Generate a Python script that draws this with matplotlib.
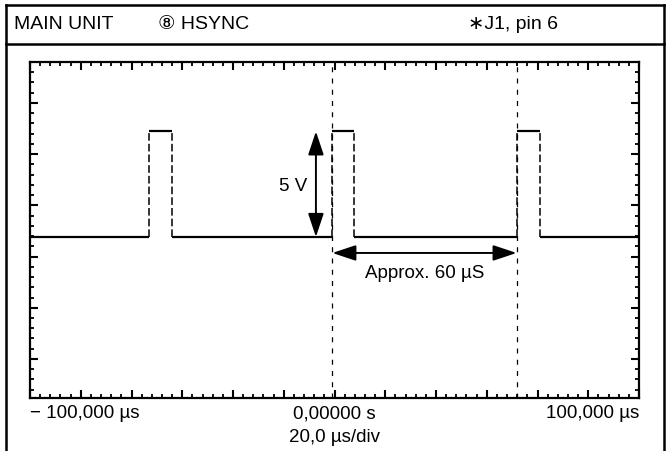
import numpy as np
import matplotlib
matplotlib.use("Agg")
import matplotlib.pyplot as plt

plt.rcParams['font.family'] = ['Liberation Sans', 'DejaVu Sans']

# Horizontal sync pulses (time in microseconds, level in volts)
pulse_start_us = [-61.0, -0.7, 59.8]
pulse_end_us = [-53.4, 6.5, 67.5]
low_level_v = 0.0
high_level_v = 5.0
time_range_us = [-100.0, 100.0]

# Period markers and annotations
marker_us = [-0.7, 59.8]
amplitude_label = "5 V"
period_label = "Approx. 60 \u00b5S"

header_texts = ["MAIN UNIT", "\u2467 HSYNC", "\u2217J1, pin 6"]
x_tick_labels = ["\u2212 100,000 \u00b5s", "0,00000 s", "100,000 \u00b5s"]
timebase_label = "20,0 \u00b5s/div"

W, H = 668, 451
fig = plt.figure(figsize=(W / 100, H / 100), dpi=100)


def fx(px):
    return px / W


def fy(py):
    return 1 - py / H


# Screen frame
left, right, top, bottom = 30, 639, 62, 398
ax = fig.add_axes([fx(left), fy(bottom), fx(right - left), (bottom - top) / H])

px_per_v = 21.1
ytop = 8.29
ybot = ytop - (bottom - top) / px_per_v
ax.set_xlim(*time_range_us)
ax.set_ylim(ybot, ytop)

# Graticule ticks on all four edges
ax.set_xticks(np.linspace(-100, 100, 13))
ax.set_xticks(np.linspace(-100, 100, 61), minor=True)
ax.set_yticks(ytop - (41 + 51.2 * np.arange(6)) / px_per_v)
ax.set_yticks(ytop - 10.24 * np.arange(1, 33) / px_per_v, minor=True)
ax.tick_params(which='both', direction='in', top=True, right=True,
               labelbottom=False, labelleft=False, color='black')
ax.tick_params(which='major', length=6, width=1.5)
ax.tick_params(which='minor', length=3, width=1.3)
for s in ax.spines.values():
    s.set_linewidth(1.6)

# Trace: flat segments solid, fast edges faint/dashed
low_x = [time_range_us[0]] + pulse_end_us
low_x2 = pulse_start_us + [time_range_us[1]]
for a, b in zip(low_x, low_x2):
    ax.plot([a, b], [low_level_v, low_level_v], color='black', lw=1.6,
            solid_capstyle='butt')
for a, b in zip(pulse_start_us, pulse_end_us):
    ax.plot([a, b], [high_level_v, high_level_v], color='black', lw=1.6,
            solid_capstyle='butt')
    for e in (a, b):
        ax.plot([e, e], [low_level_v, high_level_v], color='black', lw=1.1,
                linestyle=(0, (5, 2)))

# Period markers
for m in marker_us:
    ax.axvline(m, color='black', lw=0.9, linestyle=(0, (4, 5)))

arrow_style = '<|-|>,head_length=0.9,head_width=0.3'

# Amplitude arrow
arrow_x = -6.1
ax.annotate('', xy=(arrow_x, high_level_v), xytext=(arrow_x, low_level_v),
            arrowprops=dict(arrowstyle=arrow_style, color='black', lw=1.4,
                            mutation_scale=16, shrinkA=0, shrinkB=0))
ax.text(arrow_x - 3.0, 2.4, amplitude_label, ha='right', va='center',
        fontsize=13.5)

# Period arrow
arrow_y = -0.76
ax.annotate('', xy=(marker_us[0], arrow_y), xytext=(marker_us[1], arrow_y),
            arrowprops=dict(arrowstyle=arrow_style, color='black', lw=1.4,
                            mutation_scale=16, shrinkA=0, shrinkB=0))
ax.text(sum(marker_us) / 2, -1.72, period_label, ha='center', va='center',
        fontsize=13.5)

# Time axis labels
ax.text(0.0, -0.047, x_tick_labels[0], transform=ax.transAxes, ha='left',
        va='center', fontsize=13.5)
ax.text(0.5, -0.047, x_tick_labels[1], transform=ax.transAxes, ha='center',
        va='center', fontsize=13.5)
ax.text(1.0, -0.047, x_tick_labels[2], transform=ax.transAxes, ha='right',
        va='center', fontsize=13.5)
ax.text(0.5, -0.118, timebase_label, transform=ax.transAxes, ha='center',
        va='center', fontsize=13.5)

# Outer box with header row
box_kw = dict(color='black', lw=1.8, transform=fig.transFigure)
fig.add_artist(plt.Line2D([fx(6), fx(664)], [fy(5), fy(5)], **box_kw))
fig.add_artist(plt.Line2D([fx(6), fx(664)], [fy(44), fy(44)], **box_kw))
fig.add_artist(plt.Line2D([fx(6), fx(6)], [fy(5), 0], **box_kw))
fig.add_artist(plt.Line2D([fx(664), fx(664)], [fy(5), 0], **box_kw))

fig.text(fx(14), fy(24.5), header_texts[0], ha='left', va='center', fontsize=14)
fig.text(fx(158), fy(24.5), header_texts[1], ha='left', va='center', fontsize=14)
fig.text(fx(468), fy(24.5), header_texts[2], ha='left', va='center', fontsize=14)

fig.savefig("out.png", dpi=100)
